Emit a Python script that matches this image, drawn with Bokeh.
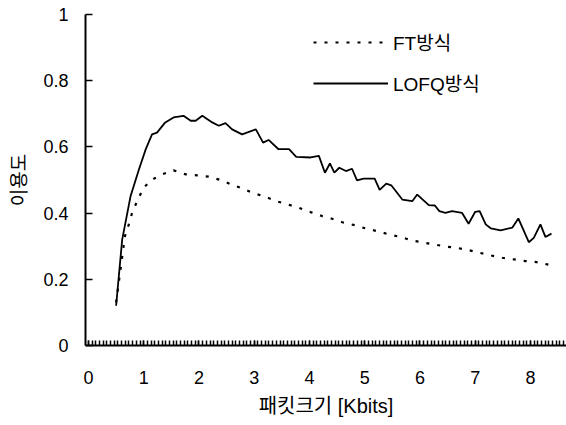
import numpy as np
from bokeh.plotting import figure
from bokeh.models import Range1d, FixedTicker, Legend, LegendItem
from bokeh.embed import file_html
from bokeh.resources import INLINE

# ---- data ----
x_lofq = [0.50, 0.61, 0.76, 0.91, 1.03, 1.15, 1.24, 1.39, 1.54, 1.72, 1.85, 1.94,
          2.06, 2.24, 2.36, 2.48, 2.60, 2.78, 3.03, 3.16, 3.26, 3.44, 3.63, 3.76,
          4.02, 4.17, 4.28, 4.37, 4.45, 4.54, 4.66, 4.77, 4.86, 4.98, 5.18, 5.27,
          5.39, 5.48, 5.68, 5.86, 5.95, 6.16, 6.27, 6.35, 6.46, 6.58, 6.76, 6.88,
          7.00, 7.08, 7.19, 7.28, 7.46, 7.67, 7.78, 7.97, 8.06, 8.18, 8.27, 8.38]
y_lofq = [0.120, 0.320, 0.450, 0.530, 0.590, 0.638, 0.643, 0.674, 0.689, 0.694, 0.679, 0.679,
          0.694, 0.674, 0.664, 0.672, 0.653, 0.638, 0.653, 0.613, 0.621, 0.593, 0.593, 0.570,
          0.568, 0.573, 0.522, 0.550, 0.522, 0.537, 0.527, 0.534, 0.499, 0.504, 0.504, 0.470,
          0.489, 0.484, 0.441, 0.436, 0.456, 0.424, 0.423, 0.406, 0.401, 0.406, 0.401, 0.368,
          0.404, 0.406, 0.366, 0.354, 0.348, 0.356, 0.384, 0.312, 0.325, 0.366, 0.328, 0.338]

x_ft = [0.50, 0.66, 0.73, 0.79, 0.88, 1.00, 1.14, 1.33, 1.54, 1.76, 1.97, 2.18,
        2.39, 2.58, 2.79, 2.99, 3.19, 3.40, 3.61, 3.81, 4.02, 4.23, 4.41, 4.62,
        4.83, 5.03, 5.24, 5.45, 5.65, 5.86, 6.06, 6.27, 6.46, 6.67, 6.88, 7.08,
        7.29, 7.49, 7.70, 7.91, 8.11, 8.33]
y_ft = [0.130, 0.330, 0.366, 0.401, 0.436, 0.477, 0.500, 0.517, 0.529, 0.517, 0.514, 0.510,
        0.500, 0.487, 0.474, 0.460, 0.450, 0.436, 0.426, 0.416, 0.403, 0.391, 0.383, 0.371,
        0.363, 0.353, 0.345, 0.335, 0.328, 0.317, 0.311, 0.305, 0.299, 0.295, 0.288, 0.280,
        0.272, 0.265, 0.260, 0.255, 0.252, 0.244]

x_ticks = [0, 1, 2, 3, 4, 5, 6, 7, 8]
x_tick_labels = ["0", "1", "2", "3", "4", "5", "6", "7", "8"]
y_ticks = [0, 0.2, 0.4, 0.6, 0.8, 1.0]
y_tick_labels = ["0", "0.2", "0.4", "0.6", "0.8", "1"]
x_title = "패킷크기 [Kbits]"
y_title = "이용도"
series_names = ["FT방식", "LOFQ방식"]

LAT = "Liberation Sans"
KOR = "Liberation Sans, Noto Sans CJK KR"

p = figure(width=566, height=425, output_backend="svg", toolbar_location=None,
           x_range=Range1d(-0.054, 8.652), y_range=Range1d(0, 1.0),
           min_border_left=85, min_border_right=0, min_border_top=14,
           min_border_bottom=80)
p.outline_line_color = None
p.grid.visible = False
p.background_fill_color = "white"
p.border_fill_color = "white"

r_ft = p.line(x_ft, y_ft, line_color="black", line_width=2.2, line_dash="3 8")
r_lofq = p.line(x_lofq, y_lofq, line_color="black", line_width=1.8)

# x axis
xa = p.xaxis[0]
xa.ticker = FixedTicker(ticks=x_ticks, minor_ticks=list(np.arange(0, 8.66, 1 / 15)))
xa.major_label_overrides = {t: l for t, l in zip(x_ticks, x_tick_labels)}
xa.axis_line_width = 2
xa.axis_line_color = "black"
xa.major_tick_in = 5
xa.major_tick_out = 0
xa.minor_tick_in = 5
xa.minor_tick_out = 0
xa.major_tick_line_width = 1.5
xa.minor_tick_line_width = 1.5
xa.major_tick_line_color = "black"
xa.minor_tick_line_color = "black"
xa.major_label_text_font = LAT
xa.major_label_text_font_size = "18px"
xa.major_label_text_color = "black"
xa.major_label_standoff = 25
xa.axis_label = x_title
xa.axis_label_text_font = KOR
xa.axis_label_text_font_size = "20px"
xa.axis_label_text_font_style = "normal"
xa.axis_label_text_color = "black"
xa.axis_label_standoff = 8

# y axis
ya = p.yaxis[0]
ya.ticker = FixedTicker(ticks=y_ticks, minor_ticks=[])
ya.major_label_overrides = {t: l for t, l in zip(y_ticks, y_tick_labels)}
ya.axis_line_width = 2
ya.axis_line_color = "black"
ya.major_tick_in = 7
ya.major_tick_out = 0
ya.major_tick_line_width = 1.5
ya.major_tick_line_color = "black"
ya.minor_tick_line_color = None
ya.major_label_text_font = LAT
ya.major_label_text_font_size = "18px"
ya.major_label_text_color = "black"
ya.major_label_standoff = 17
ya.axis_label = y_title
ya.axis_label_text_font = KOR
ya.axis_label_text_font_size = "19px"
ya.axis_label_text_font_style = "normal"
ya.axis_label_text_color = "black"
ya.axis_label_standoff = 10

legend = Legend(items=[LegendItem(label=series_names[0], renderers=[r_ft]),
                       LegendItem(label=series_names[1], renderers=[r_lofq])],
                location=(228, 249), glyph_width=75, glyph_height=20,
                label_height=20, spacing=14, padding=0, margin=0,
                border_line_color=None, background_fill_alpha=0,
                label_text_font=KOR, label_text_font_size="19px",
                label_text_color="black", label_standoff=5)
p.add_layout(legend)

open("out.html", "w").write(file_html(p, INLINE))
